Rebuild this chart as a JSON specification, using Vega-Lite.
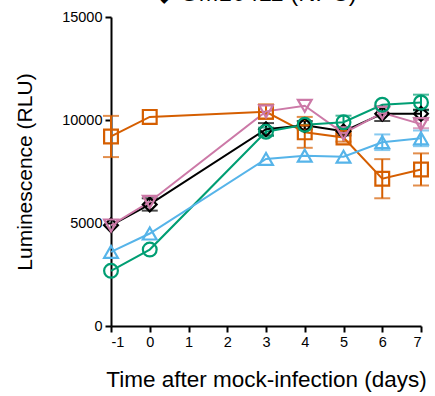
{
  "$schema": "https://vega.github.io/schema/vega-lite/v6.json",
  "autosize": "none",
  "width": 310,
  "height": 309,
  "padding": {"left": 111, "top": 17, "right": 14, "bottom": 70},
  "background": "white",
  "title": {
    "text": "◆  GM10411 (NPC)",
    "font": "Liberation Sans",
    "fontSize": 24,
    "fontWeight": "normal",
    "color": "black",
    "baseline": "alphabetic",
    "offset": 0,
    "dy": 16,
    "anchor": "middle",
    "dx": -10
  },
  "config": {
    "view": {"stroke": null},
    "axis": {
      "grid": false,
      "domainColor": "black",
      "domainWidth": 2,
      "tickColor": "black",
      "tickWidth": 2,
      "tickSize": 6,
      "labelFont": "Liberation Sans",
      "labelFontSize": 14.5,
      "labelColor": "black",
      "titleFont": "Liberation Sans",
      "titleFontWeight": "normal",
      "titleColor": "black"
    }
  },
  "data": {
    "values": [
      {"series": "A", "day": -1, "value": 9200, "err": 1000},
      {"series": "A", "day": 0, "value": 10150, "err": 0},
      {"series": "A", "day": 3, "value": 10400, "err": 350},
      {"series": "A", "day": 4, "value": 9400, "err": 750},
      {"series": "A", "day": 5, "value": 9150, "err": 200},
      {"series": "A", "day": 6, "value": 7150, "err": 950},
      {"series": "A", "day": 7, "value": 7600, "err": 780},
      {"series": "GM10411 (NPC)", "day": -1, "value": 4890, "err": 0},
      {"series": "GM10411 (NPC)", "day": 0, "value": 5900, "err": 300},
      {"series": "GM10411 (NPC)", "day": 3, "value": 9550, "err": 300},
      {"series": "GM10411 (NPC)", "day": 4, "value": 9750, "err": 200},
      {"series": "GM10411 (NPC)", "day": 5, "value": 9450, "err": 200},
      {"series": "GM10411 (NPC)", "day": 6, "value": 10300, "err": 350},
      {"series": "GM10411 (NPC)", "day": 7, "value": 10300, "err": 200},
      {"series": "B", "day": -1, "value": 4880, "err": 0},
      {"series": "B", "day": 0, "value": 6030, "err": 0},
      {"series": "B", "day": 3, "value": 10420, "err": 0},
      {"series": "B", "day": 4, "value": 10690, "err": 0},
      {"series": "B", "day": 5, "value": 9350, "err": 0},
      {"series": "B", "day": 6, "value": 10350, "err": 0},
      {"series": "B", "day": 7, "value": 9800, "err": 200},
      {"series": "C", "day": -1, "value": 2680, "err": 0},
      {"series": "C", "day": 0, "value": 3710, "err": 0},
      {"series": "C", "day": 3, "value": 9430, "err": 200},
      {"series": "C", "day": 4, "value": 9770, "err": 0},
      {"series": "C", "day": 5, "value": 9890, "err": 320},
      {"series": "C", "day": 6, "value": 10740, "err": 0},
      {"series": "C", "day": 7, "value": 10850, "err": 380},
      {"series": "D", "day": -1, "value": 3600, "err": 0},
      {"series": "D", "day": 0, "value": 4490, "err": 0},
      {"series": "D", "day": 3, "value": 8110, "err": 0},
      {"series": "D", "day": 4, "value": 8270, "err": 0},
      {"series": "D", "day": 5, "value": 8220, "err": 0},
      {"series": "D", "day": 6, "value": 8920, "err": 380},
      {"series": "D", "day": 7, "value": 9110, "err": 380}
    ]
  },
  "encoding": {
    "x": {
      "field": "day",
      "type": "quantitative",
      "scale": {"domain": [-1, 7], "nice": false, "zero": false},
      "axis": {
        "values": [-1, 0, 1, 2, 3, 4, 5, 6, 7],
        "labelExpr": "datum.value < 0 ? '-' + abs(datum.value) : datum.label",
        "title": "Time after mock-infection (days)",
        "titleFontSize": 22.5,
        "titlePadding": 20,
        "labelPadding": 3
      }
    },
    "y": {
      "field": "value",
      "type": "quantitative",
      "scale": {"domain": [0, 15000], "nice": false},
      "axis": {
        "values": [0, 5000, 10000, 15000],
        "format": "d",
        "title": "Luminescence  (RLU)",
        "titleFontSize": 21,
        "titlePadding": 26,
        "labelPadding": 3
      }
    },
    "color": {
      "field": "series",
      "type": "nominal",
      "scale": {
        "domain": ["A", "GM10411 (NPC)", "B", "C", "D"],
        "range": ["#D55E00", "#000000", "#CC79A7", "#009E73", "#56B4E9"]
      },
      "legend": null
    }
  },
  "layer": [
    {
      "transform": [{"filter": "datum.err > 0"}],
      "mark": {"type": "errorbar", "ticks": {"size": 16}, "thickness": 2},
      "encoding": {
        "yError": {"field": "err"}
      }
    },
    {
      "mark": {"type": "line", "strokeWidth": 2}
    },
    {
      "mark": {"type": "point", "filled": false, "strokeWidth": 2.2, "opacity": 1, "size": 190},
      "encoding": {
        "shape": {
          "field": "series",
          "type": "nominal",
          "scale": {
            "domain": ["A", "GM10411 (NPC)", "B", "C", "D"],
            "range": ["square", "diamond", "triangle-down", "circle", "triangle-up"]
          },
          "legend": null
        }
      }
    }
  ]
}
